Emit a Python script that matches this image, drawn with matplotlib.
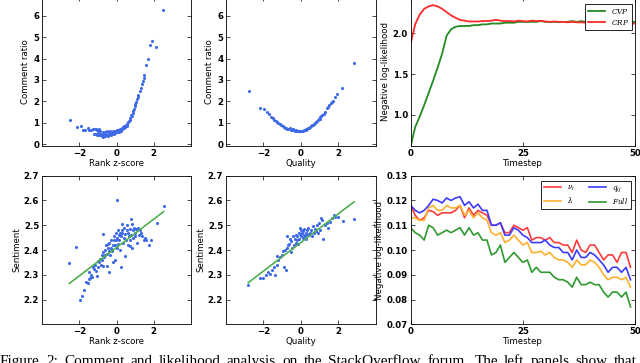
import matplotlib
matplotlib.use("Agg")
import matplotlib.pyplot as plt
import numpy as np

# ---------------- data ----------------
# Panel 1: Rank z-score vs Comment ratio
rank_x = [-2.50, -2.13, -1.93, -1.80, -1.68, -1.55, -1.45, -1.35, -1.25, -1.18, -1.10, -1.05, -1.00, -0.95, -0.90,
          -1.20, -1.12, -1.05, -0.98, -0.92, -0.88, -0.82, -0.78, -0.75, -0.72, -0.70, -0.66, -0.62, -0.60, -0.56,
          -0.52, -0.50, -0.46, -0.42, -0.40, -0.36, -0.32, -0.30, -0.26, -0.22, -0.20, -0.16, -0.12, -0.10, -0.06,
          -0.03, 0.00, 0.03, 0.06, 0.10, 0.12, 0.16, 0.20, 0.24, 0.28, 0.30, 0.34, 0.38, 0.42, 0.46, 0.50, 0.54,
          0.58, 0.62, 0.66, 0.70, 0.74, 0.78, 0.82, 0.86, 0.90, 0.94, 0.98, 1.02, 1.06, 1.10, 1.14, 1.18, 1.24,
          1.30, 1.35, 1.40, 1.45, 1.50, 1.57, 1.69, 1.80, 1.92, 2.13, 2.49]
rank_ratio = [1.11, 0.81, 0.84, 0.66, 0.65, 0.77, 0.68, 0.66, 0.70, 0.72, 0.70, 0.68, 0.62, 0.70, 0.60,
              0.50, 0.46, 0.44, 0.47, 0.42, 0.50, 0.45, 0.40, 0.55, 0.35, 0.48, 0.42, 0.58, 0.38, 0.50,
              0.45, 0.62, 0.40, 0.55, 0.48, 0.60, 0.52, 0.45, 0.58, 0.50, 0.62, 0.55, 0.48, 0.60, 0.52,
              0.58, 0.65, 0.55, 0.62, 0.68, 0.58, 0.66, 0.72, 0.64, 0.78, 0.70, 0.82, 0.75, 0.86, 0.80, 0.90, 0.85,
              0.96, 1.02, 1.08, 1.15, 1.22, 1.35, 1.30, 1.45, 1.55, 1.65, 1.78, 1.88, 1.98, 2.10, 2.22, 2.30, 2.50,
              2.62, 2.80, 2.95, 3.10, 3.22, 3.72, 3.98, 4.62, 4.83, 4.55, 6.25]

# Panel 2: Quality vs Comment ratio
qual_x = [-2.78, -2.19, -1.98, -1.81, -1.68, -1.58, -1.50, -1.42, -1.35, -1.28, -1.20, -1.12, -1.05, -0.98,
          -0.92, -0.85, -0.78, -0.72, -0.66, -0.60, -0.55, -0.50, -0.45, -0.40, -0.35, -0.30, -0.25, -0.20,
          -0.15, -0.10, -0.05, 0.00, 0.05, 0.10, 0.15, 0.20, 0.25, 0.30, 0.35, 0.40, 0.45, 0.50, 0.55, 0.60,
          0.65, 0.70, 0.75, 0.80, 0.85, 0.90, 0.95, 1.00, 1.05, 1.10, 1.15, 1.22, 1.30, 1.38, 1.45, 1.52,
          1.59, 1.66, 1.73, 1.82, 1.95, 2.18, 2.83]
qual_ratio = [2.50, 1.71, 1.63, 1.49, 1.42, 1.27, 1.23, 1.15, 1.10, 1.05, 0.98, 0.94, 0.90, 0.86,
              0.82, 0.78, 0.76, 0.73, 0.70, 0.74, 0.68, 0.72, 0.67, 0.70, 0.66, 0.64, 0.66, 0.63,
              0.62, 0.64, 0.61, 0.62, 0.63, 0.62, 0.65, 0.66, 0.68, 0.70, 0.72, 0.74, 0.78, 0.80, 0.84, 0.88,
              0.92, 0.96, 1.00, 1.04, 1.08, 1.12, 1.16, 1.20, 1.25, 1.30, 1.36, 1.40, 1.52, 1.68, 1.75, 1.82,
              1.91, 1.96, 2.04, 2.22, 2.33, 2.61, 3.78]

# Panel 3: CVP vs CRP negative log-likelihood
timestep = list(range(0, 51))
cvp = [0.62, 0.85, 0.98, 1.12, 1.27, 1.42, 1.58, 1.75, 1.97, 2.05, 2.08, 2.09, 2.09, 2.09, 2.10, 2.10, 2.11,
       2.11, 2.12, 2.12, 2.12, 2.13, 2.13, 2.13, 2.14, 2.14, 2.14, 2.14, 2.14, 2.15, 2.14, 2.14, 2.14, 2.14,
       2.14, 2.14, 2.15, 2.14, 2.15, 2.14, 2.15, 2.14, 2.14, 2.14, 2.14, 2.14, 2.14, 2.14, 2.14, 2.14, 2.14]
crp = [1.88, 2.11, 2.23, 2.30, 2.33, 2.345, 2.33, 2.30, 2.26, 2.22, 2.19, 2.165, 2.155, 2.145, 2.145, 2.145,
       2.15, 2.15, 2.155, 2.165, 2.155, 2.15, 2.15, 2.145, 2.155, 2.15, 2.145, 2.155, 2.15, 2.155, 2.145, 2.14,
       2.145, 2.14, 2.14, 2.135, 2.14, 2.135, 2.135, 2.13, 2.135, 2.13, 2.125, 2.13, 2.125, 2.125, 2.12, 2.125,
       2.12, 2.12, 2.12]

# Panel 4: Rank z-score vs Sentiment
sent_rank_x = [-2.53, -2.17, -1.96, -1.83, -1.72, -1.62, -1.55, -1.50, -1.45, -1.40, -1.35, -1.30, -1.25, -1.20,
               -1.15, -1.10, -1.05, -1.00, -0.98, -0.92, -0.88, -0.85, -0.80, -0.78, -0.75, -0.72, -0.70, -0.66,
               -0.62, -0.60, -0.56, -0.52, -0.50, -0.48, -0.45, -0.42, -0.40, -0.38, -0.35, -0.30, -0.28, -0.25,
               -0.22, -0.20, -0.18, -0.15, -0.12, -0.10, -0.08, -0.05, -0.02, 0.00, 0.02, 0.05, 0.08, 0.10, 0.12,
               0.15, 0.18, 0.20, 0.22, 0.25, 0.28, 0.30, 0.32, 0.35, 0.38, 0.40, 0.45, 0.48, 0.50, 0.55, 0.58,
               0.60, 0.62, 0.66, 0.70, 0.72, 0.75, 0.78, 0.80, 0.82, 0.85, 0.88, 0.90, 0.95, 1.00, 1.02, 1.05,
               1.10, 1.15, 1.20, 1.25, 1.30, 1.38, 1.45, 1.52, 1.60, 1.75, 1.85, 2.17, 2.53]
sent_rank_y = [2.349, 2.412, 2.200, 2.215, 2.240, 2.272, 2.268, 2.282, 2.310, 2.285, 2.300, 2.290, 2.330, 2.322,
               2.340, 2.315, 2.295, 2.355, 2.330, 2.350, 2.365, 2.340, 2.380, 2.360, 2.465, 2.390, 2.335, 2.370,
               2.400, 2.380, 2.420, 2.385, 2.335, 2.410, 2.425, 2.310, 2.395, 2.430, 2.380, 2.410, 2.440, 2.400,
               2.395, 2.420, 2.350, 2.440, 2.455, 2.420, 2.360, 2.470, 2.440, 2.600, 2.410, 2.450, 2.425, 2.480,
               2.460, 2.440, 2.400, 2.470, 2.455, 2.330, 2.480, 2.505, 2.470, 2.430, 2.450, 2.490, 2.375, 2.465,
               2.440, 2.480, 2.500, 2.420, 2.470, 2.455, 2.440, 2.415, 2.485, 2.525, 2.460, 2.505, 2.410, 2.480,
               2.450, 2.490, 2.470, 2.455, 2.485, 2.430, 2.490, 2.460, 2.480, 2.470, 2.455, 2.440, 2.450, 2.440,
               2.420, 2.440, 2.510, 2.576]
fit_rank_x = [-2.53, 2.53]
fit_rank_y = [2.265, 2.555]

# Panel 5: Quality vs Sentiment
sent_qual_x = [-2.81, -2.20, -2.00, -1.85, -1.75, -1.65, -1.55, -1.45, -1.38, -1.30, -1.25, -1.20, -1.10, -1.00,
               -0.95, -0.90, -0.85, -0.80, -0.75, -0.72, -0.68, -0.62, -0.58, -0.55, -0.50, -0.45, -0.40, -0.35,
               -0.32, -0.28, -0.25, -0.20, -0.18, -0.15, -0.12, -0.08, -0.05, -0.02, 0.00, 0.03, 0.06, 0.10,
               0.12, 0.15, 0.18, 0.20, 0.25, 0.28, 0.32, 0.35, 0.40, 0.45, 0.50, 0.55, 0.60, 0.65, 0.70, 0.75,
               0.80, 0.85, 0.90, 0.95, 1.00, 1.10, 1.15, 1.20, 1.30, 1.40, 1.45, 1.55, 1.65, 1.75, 1.85, 2.00,
               2.23, 2.83]
sent_qual_y = [2.257, 2.285, 2.285, 2.300, 2.310, 2.305, 2.320, 2.330, 2.300, 2.340, 2.375, 2.360, 2.370, 2.380,
               2.395, 2.330, 2.400, 2.320, 2.455, 2.410, 2.420, 2.425, 2.445, 2.390, 2.435, 2.410, 2.455, 2.420,
               2.445, 2.430, 2.460, 2.440, 2.455, 2.425, 2.470, 2.445, 2.490, 2.465, 2.480, 2.455, 2.470, 2.450,
               2.475, 2.460, 2.485, 2.455, 2.470, 2.445, 2.480, 2.465, 2.490, 2.460, 2.470, 2.480, 2.455, 2.495,
               2.470, 2.485, 2.475, 2.500, 2.470, 2.510, 2.480, 2.530, 2.520, 2.445, 2.500, 2.510, 2.490, 2.515,
               2.530, 2.540, 2.535, 2.535, 2.516, 2.524]
fit_qual_x = [-2.81, 2.85]
fit_qual_y = [2.268, 2.595]

# Panel 6: model ablations
steps = list(range(0, 50))
nu_i = [0.118, 0.114, 0.112, 0.113, 0.116, 0.1155, 0.114, 0.115, 0.115, 0.115, 0.116, 0.118, 0.113, 0.117,
        0.114, 0.116, 0.115, 0.114, 0.110, 0.110, 0.111, 0.107, 0.107, 0.110, 0.109, 0.108, 0.109, 0.104,
        0.105, 0.105, 0.104, 0.105, 0.103, 0.103, 0.102, 0.102, 0.099, 0.104, 0.100, 0.099, 0.102, 0.102,
        0.099, 0.096, 0.098, 0.098, 0.095, 0.099, 0.099, 0.093]
lam = [0.113, 0.113, 0.112, 0.112, 0.117, 0.118, 0.116, 0.116, 0.118, 0.117, 0.117, 0.118, 0.114, 0.116,
       0.113, 0.115, 0.113, 0.112, 0.107, 0.106, 0.107, 0.103, 0.104, 0.106, 0.104, 0.102, 0.103, 0.099,
       0.099, 0.0995, 0.098, 0.099, 0.097, 0.096, 0.096, 0.095, 0.093, 0.096, 0.094, 0.094, 0.096, 0.095,
       0.093, 0.090, 0.088, 0.089, 0.089, 0.088, 0.089, 0.085]
q_ij = [0.118, 0.116, 0.115, 0.116, 0.118, 0.1205, 0.120, 0.119, 0.121, 0.120, 0.121, 0.1215, 0.118, 0.1195,
        0.117, 0.1185, 0.116, 0.116, 0.110, 0.110, 0.111, 0.106, 0.106, 0.109, 0.108, 0.106, 0.105, 0.103,
        0.103, 0.103, 0.104, 0.102, 0.101, 0.101, 0.099, 0.099, 0.096, 0.100, 0.097, 0.097, 0.099, 0.098,
        0.096, 0.094, 0.091, 0.093, 0.093, 0.091, 0.093, 0.088]
full = [0.109, 0.107, 0.106, 0.104, 0.110, 0.109, 0.106, 0.107, 0.108, 0.107, 0.108, 0.109, 0.106, 0.109,
        0.106, 0.107, 0.104, 0.104, 0.098, 0.099, 0.102, 0.095, 0.097, 0.099, 0.097, 0.095, 0.096, 0.091,
        0.093, 0.091, 0.091, 0.091, 0.089, 0.088, 0.088, 0.087, 0.085, 0.089, 0.086, 0.086, 0.087, 0.086,
        0.086, 0.083, 0.081, 0.083, 0.083, 0.081, 0.083, 0.077]

caption_words = ["Figure", "2:", "Comment", "and", "likelihood", "analysis", "on", "the",
                 "StackOverflow", "forum.", "The", "left", "panels", "show", "that"]

# ---------------- style ----------------
plt.rcParams['font.family'] = ['DejaVu Sans']
plt.rcParams['xtick.direction'] = 'in'
plt.rcParams['ytick.direction'] = 'in'
plt.rcParams['xtick.top'] = True
plt.rcParams['ytick.right'] = True
plt.rcParams['xtick.major.size'] = 3
plt.rcParams['ytick.major.size'] = 3
plt.rcParams['xtick.major.width'] = 0.5
plt.rcParams['ytick.major.width'] = 0.5
plt.rcParams['axes.linewidth'] = 0.6
plt.rcParams['mathtext.fontset'] = 'dejavuserif'

W, H = 640, 363
fig = plt.figure(figsize=(W / 100, H / 100), dpi=100)

def box(l, r, t, b):
    return [l / W, 1 - b / H, (r - l) / W, (b - t) / H]

TICKFS = 6.2
LABFS = 6.2
blue = '#3e6ae8'

def style(ax):
    for lab in ax.get_xticklabels() + ax.get_yticklabels():
        lab.set_fontweight('bold')
        lab.set_fontsize(TICKFS)
    ax.tick_params(pad=2)

# Panel 1
ax1 = fig.add_axes(box(42, 191, -2.6, 146))
ax1.scatter(rank_x, rank_ratio, s=5, color=blue, linewidths=0)
ax1.set_xlim(-4, 4)
ax1.set_ylim(-0.08, 6.85)
ax1.set_xticks([-2, 0, 2])
ax1.set_yticks(range(0, 7))
ax1.set_xlabel('Rank z-score', fontsize=LABFS, labelpad=1)
ax1.set_ylabel('Comment ratio', fontsize=LABFS, labelpad=2)
style(ax1)

# Panel 2
ax2 = fig.add_axes(box(226, 375.7, -2.6, 146))
ax2.scatter(qual_x, qual_ratio, s=5, color=blue, linewidths=0)
ax2.set_xlim(-4, 4)
ax2.set_ylim(-0.08, 6.85)
ax2.set_xticks([-2, 0, 2])
ax2.set_yticks(range(0, 7))
ax2.set_xlabel('Quality', fontsize=LABFS, labelpad=1)
ax2.set_ylabel('Comment ratio', fontsize=LABFS, labelpad=2)
style(ax2)

# Panel 3
ax3 = fig.add_axes(box(410.7, 635, -2.6, 146))
ax3.plot(timestep, cvp, color='#228b22', lw=1.3, label='$CVP$')
ax3.plot(timestep, crp, color='#ff2a2a', lw=1.3, label='$CRP$')
ax3.set_xlim(0, 50)
ax3.set_ylim(0.62, 2.44)
ax3.set_xticks([0, 25, 50])
ax3.set_yticks([1.0, 1.5, 2.0])
ax3.set_xlabel('Timestep', fontsize=LABFS, labelpad=1)
ax3.set_ylabel('Negative log-likelihood', fontsize=LABFS, labelpad=2)
leg = ax3.legend(loc='upper right', fontsize=5.2, handlelength=2.4, borderpad=0.4,
                 labelspacing=0.3, fancybox=False, framealpha=1, edgecolor='black',
                 bbox_to_anchor=(0.987, 0.956), borderaxespad=0)
leg.get_frame().set_linewidth(0.6)
style(ax3)

# Panel 4
ax4 = fig.add_axes(box(42, 191, 175.7, 324.3))
ax4.scatter(sent_rank_x, sent_rank_y, s=5, color=blue, linewidths=0, zorder=2)
ax4.plot(fit_rank_x, fit_rank_y, color='#4fb04f', lw=1.2, zorder=3)
ax4.set_xlim(-4, 4)
ax4.set_ylim(2.1, 2.7)
ax4.set_xticks([-2, 0, 2])
ax4.set_yticks([2.2, 2.3, 2.4, 2.5, 2.6, 2.7])
ax4.set_xlabel('Rank z-score', fontsize=LABFS, labelpad=1)
ax4.set_ylabel('Sentiment', fontsize=LABFS, labelpad=2)
style(ax4)

# Panel 5
ax5 = fig.add_axes(box(226, 375.7, 175.7, 324.3))
ax5.scatter(sent_qual_x, sent_qual_y, s=5, color=blue, linewidths=0, zorder=2)
ax5.plot(fit_qual_x, fit_qual_y, color='#4fb04f', lw=1.2, zorder=3)
ax5.set_xlim(-4, 4)
ax5.set_ylim(2.1, 2.7)
ax5.set_xticks([-2, 0, 2])
ax5.set_yticks([2.2, 2.3, 2.4, 2.5, 2.6, 2.7])
ax5.set_xlabel('Quality', fontsize=LABFS, labelpad=1)
ax5.set_ylabel('Sentiment', fontsize=LABFS, labelpad=2)
style(ax5)

# Panel 6
ax6 = fig.add_axes(box(410.7, 635, 175.7, 324.3))
ax6.plot(steps, nu_i, color='#ff3b3b', lw=1.2, label=r'$\nu_i$')
ax6.plot(steps, lam, color='#ffb030', lw=1.2, label=r'$\lambda$')
ax6.plot(steps, q_ij, color='#3b3bff', lw=1.2, label=r'$q_{ij}$')
ax6.plot(steps, full, color='#2f9a2f', lw=1.2, label=r'$Full$')
ax6.set_xlim(0, 50)
ax6.set_ylim(0.07, 0.13)
ax6.set_xticks([0, 25, 50])
ax6.set_yticks([0.07, 0.08, 0.09, 0.10, 0.11, 0.12, 0.13])
ax6.set_xlabel('Timestep', fontsize=LABFS, labelpad=1)
ax6.set_ylabel('Negative log-likelihood', fontsize=LABFS, labelpad=2)
leg2 = ax6.legend(loc='upper right', ncol=2, fontsize=5.2, handlelength=2.4, borderpad=0.4,
                  labelspacing=0.3, columnspacing=2.0, fancybox=False, framealpha=1,
                  edgecolor='black', bbox_to_anchor=(0.982, 0.964), borderaxespad=0)
leg2.get_frame().set_linewidth(0.6)
style(ax6)

# Caption (justified across the width, cut by the bottom edge as in the source)
renderer = fig.canvas.get_renderer()
cap_y = 1 - 364.5 / H
cap_texts = [fig.text(0, cap_y, w, family='Liberation Serif', fontsize=11,
                      ha='left', va='baseline') for w in caption_words]
widths = [t.get_window_extent(renderer).width for t in cap_texts]
gap = (637 - sum(widths)) / (len(caption_words) - 1)
xpos = 0.0
for t, wdt in zip(cap_texts, widths):
    t.set_x(xpos / W)
    xpos += wdt + gap

fig.savefig('out.png', dpi=100, facecolor='white')
